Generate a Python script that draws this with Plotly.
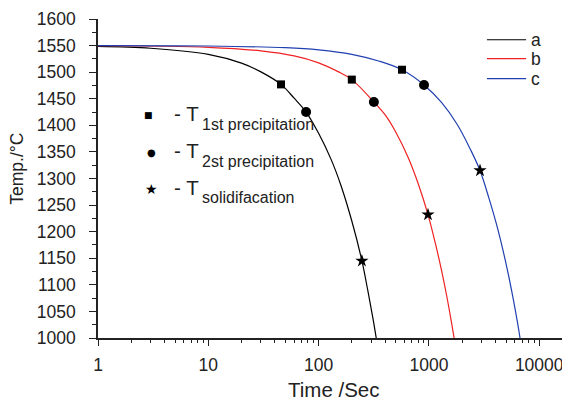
import plotly.graph_objects as go

# curve data (time in s, temperature in °C)
t_a = [1, 3, 10, 20, 30, 45.6, 60, 77, 100, 130, 160, 200, 247, 280, 310, 333]
T_a = [1548.4, 1545, 1533.5, 1517, 1500.5, 1477, 1451, 1425, 1385, 1335.5, 1286, 1220, 1145, 1088, 1038.5, 1000]

t_b = [1, 10, 30, 60, 100, 150, 200, 317, 400, 500, 650, 800, 981, 1150, 1300, 1450, 1600, 1692]
T_b = [1549.7, 1546.8, 1540, 1530.5, 1517.5, 1501, 1486, 1444, 1420, 1387.5, 1339, 1290, 1232, 1176, 1127.5, 1079, 1030, 1000]

t_c = [1, 10, 50, 100, 200, 350, 570, 903, 1300, 1800, 2400, 2905, 3500, 4200, 5000, 5800, 6400, 6700]
T_c = [1550, 1549.2, 1546, 1542, 1533.6, 1521, 1504.6, 1476, 1443, 1402, 1353, 1315, 1263, 1205.6, 1140, 1074.4, 1025, 1000]

# characteristic points (a, b, c)
t_first = [45.6, 200, 570]
T_first = [1477, 1486, 1504.6]
t_second = [77, 317, 903]
T_second = [1425, 1444, 1476]
t_solid = [247, 981, 2905]
T_solid = [1145, 1232, 1315]

series_names = ["a", "b", "c"]
series_colors = ["#000000", "#ee2222", "#2040b0"]

x_ticks = [1, 10, 100, 1000, 10000]
x_tick_labels = ["1", "10", "100", "1000", "10000"]
x_minor = [m * d for d in [1, 10, 100, 1000, 10000] for m in range(2, 10)]

marker_labels = ["1st precipitation", "2st precipitation", "solidifacation"]

fig = go.Figure()
for t, T, c in zip([t_a, t_b, t_c], [T_a, T_b, T_c], series_colors):
    fig.add_trace(go.Scatter(x=t, y=T, mode="lines", line=dict(color=c, width=1.2, shape="spline"),
                             showlegend=False))

fig.add_trace(go.Scatter(x=t_first, y=T_first, mode="markers",
                         marker=dict(symbol="square", size=8, color="black"), showlegend=False))
fig.add_trace(go.Scatter(x=t_second, y=T_second, mode="markers",
                         marker=dict(symbol="circle", size=10, color="black"), showlegend=False))
fig.add_trace(go.Scatter(x=t_solid, y=T_solid, mode="markers",
                         marker=dict(symbol="star", size=10, color="black", line=dict(width=0)),
                         showlegend=False))

font = "Liberation Sans, Arial"
axis_col = "#222222"
fig.update_xaxes(type="log", range=[0, 4.279], tickvals=x_ticks, ticktext=x_tick_labels, automargin=False,
                 ticks="outside", ticklen=6, tickwidth=1.3, tickcolor=axis_col, ticklabelstandoff=4,
                 showline=True, linecolor=axis_col, linewidth=1.5, showgrid=False, zeroline=False,
                 tickfont=dict(family=font, size=17.5, color="#222"),
                 minor=dict(tickvals=x_minor, ticks="outside", ticklen=3, tickwidth=1.1, tickcolor=axis_col,
                            showgrid=False))
fig.update_yaxes(range=[1000, 1600], dtick=50, ticks="outside", ticklen=7, tickwidth=1.3, tickcolor=axis_col,
                 automargin=False, ticklabelstandoff=10,
                 showline=True, linecolor=axis_col, linewidth=1.5, showgrid=False, zeroline=False,
                 tickfont=dict(family=font, size=17.5, color="#222"),
                 minor=dict(dtick=25, ticks="outside", ticklen=4, tickwidth=1.1, tickcolor=axis_col,
                            showgrid=False))

# axis titles
fig.add_annotation(text="Time /Sec", xref="paper", yref="paper", x=0.5, y=-0.160,
                   xanchor="center", yanchor="middle", showarrow=False,
                   font=dict(family=font, size=20.5, color="#222"))
fig.add_annotation(text="Temp./°C", xref="paper", yref="paper", x=-0.1716, y=0.5307,
                   xanchor="center", yanchor="middle", textangle=-90, showarrow=False,
                   font=dict(family=font, size=17.5, color="#222"))

# series legend (top right)
leg_y = [0.935, 0.8755, 0.813]
for name, c, yy in zip(series_names, series_colors, leg_y):
    fig.add_shape(type="line", xref="paper", yref="paper", x0=0.824, x1=0.907, y0=yy, y1=yy,
                  line=dict(color=c, width=1.2))
    fig.add_annotation(text=name, xref="paper", yref="paper", x=0.913, y=yy, xanchor="left",
                       yanchor="middle", showarrow=False, font=dict(family=font, size=17.5, color="#222"))

# marker legend
mk_glyphs = ["■", "●", "★"]
mk_sizes = [9, 10, 14]
mk_x = [0.108, 0.1123, 0.1123]
mk_y = [0.700, 0.581, 0.468]
T_y = [0.7028, 0.5878, 0.4728]      # "- T" centres
sub_y = [0.669, 0.554, 0.439]       # subscript centres
for g, s, xx, yy, lab, ty, sy in zip(mk_glyphs, mk_sizes, mk_x, mk_y, marker_labels, T_y, sub_y):
    fig.add_annotation(text=g, xref="paper", yref="paper", x=xx, y=yy, showarrow=False,
                       xanchor="center", yanchor="middle", font=dict(family="DejaVu Sans", size=s, color="black"))
    fig.add_annotation(text="- T", xref="paper", yref="paper", x=0.1589, y=ty, showarrow=False,
                       xanchor="left", yanchor="middle", borderpad=0,
                       font=dict(family=font, size=20.5, color="#222"))
    fig.add_annotation(text=lab, xref="paper", yref="paper", x=0.2176, y=sy, showarrow=False,
                       xanchor="left", yanchor="middle", borderpad=0,
                       font=dict(family=font, size=16, color="#222"))

# page body has an 8px default margin: size the figure so the plot area lands where the reference has it
fig.update_layout(width=562, height=393, margin=dict(l=90, r=0, t=11, b=63),
                  plot_bgcolor="white", paper_bgcolor="white", showlegend=False)

fig.write_html("out.html")
